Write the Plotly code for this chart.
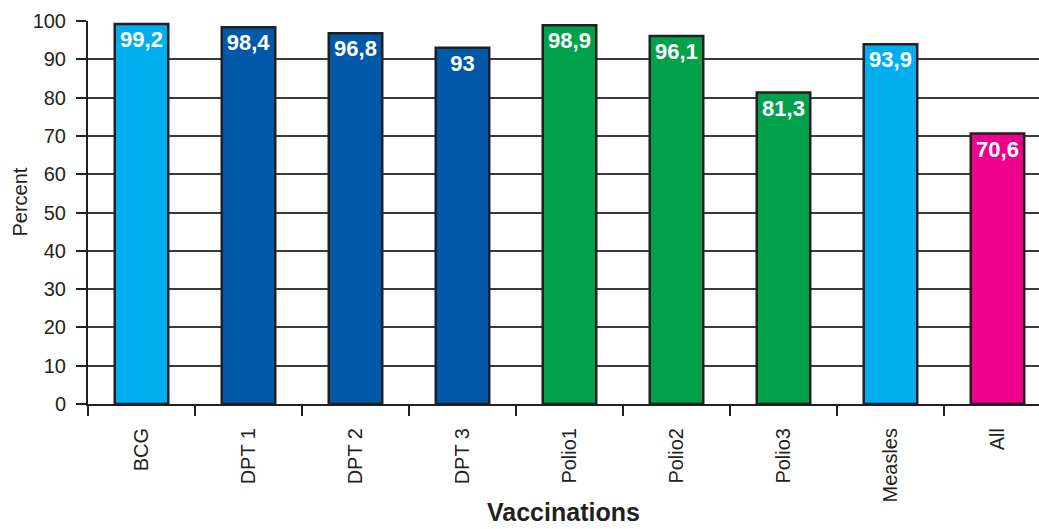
import plotly.graph_objects as go

categories = ["BCG", "DPT 1", "DPT 2", "DPT 3", "Polio1", "Polio2", "Polio3", "Measles", "All"]
values = [99.2, 98.4, 96.8, 93.0, 98.9, 96.1, 81.3, 93.9, 70.6]
labels = ["99,2", "98,4", "96,8", "93", "98,9", "96,1", "81,3", "93,9", "70,6"]
colors = ["#00AEEF", "#0058A8", "#0058A8", "#0058A8", "#00A14B", "#00A14B", "#00A14B", "#00AEEF", "#EC008C"]
y_ticks = list(range(0, 101, 10))

fig = go.Figure(go.Bar(
    x=categories, y=values, text=labels,
    marker=dict(color=colors, line=dict(color="#231F20", width=2.5)),
    width=0.5,
    textposition="inside", insidetextanchor="end",
    textfont=dict(color="white", size=22, family="Liberation Sans"),
    textangle=0,
    cliponaxis=False,
))
fig.update_traces(texttemplate="<b>%{text}</b>")

fig.update_layout(
    width=1039, height=529,
    margin=dict(l=88, r=0, t=21, b=125),
    paper_bgcolor="white", plot_bgcolor="white",
    font=dict(family="Liberation Sans", color="#231F20"),
    showlegend=False,
    uniformtext=dict(minsize=22, mode="show"),
    annotations=[
        dict(text="<b>Vaccinations</b>", xref="paper", yref="paper",
             x=0.5, y=-0.281, xanchor="center", yanchor="middle",
             showarrow=False, font=dict(size=25, color="#231F20")),
        dict(text="Percent", xref="paper", yref="paper", textangle=-90,
             x=-0.0715, y=0.526, xanchor="center", yanchor="middle",
             showarrow=False, font=dict(size=20, color="#231F20")),
    ],
)
fig.update_xaxes(
    range=[-0.5, 8.388], automargin=False,
    tickangle=-90, tickfont=dict(size=20),
    ticks="outside", tickson="boundaries", ticklen=10, tickwidth=2, tickcolor="#231F20",
    showline=True, linecolor="#231F20", linewidth=2,
    ticklabelstandoff=14,
)
fig.update_yaxes(
    range=[0, 100], tickvals=y_ticks, tickfont=dict(size=20), automargin=False,
    ticks="outside", ticklen=10, tickwidth=2, tickcolor="#231F20",
    showgrid=True, gridcolor="#3a3a3a", gridwidth=2,
    showline=True, linecolor="#231F20", linewidth=2,
    zeroline=False,
    ticklabelstandoff=6,
)
fig.write_html("out.html", config={"displayModeBar": False},
               post_script="document.body.style.margin='0';document.body.style.overflow='hidden';")
